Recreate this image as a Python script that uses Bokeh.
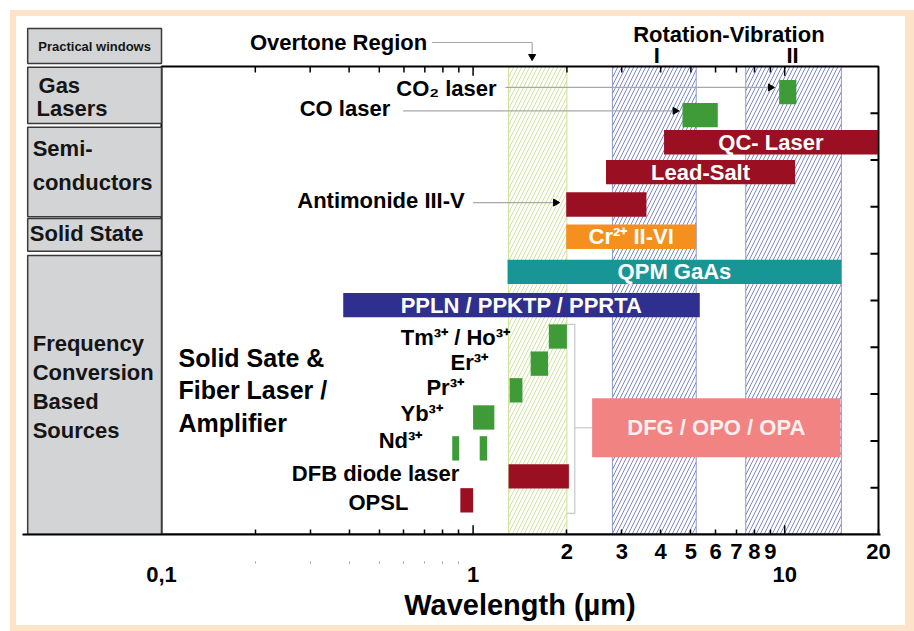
import math
from bokeh.plotting import figure
from bokeh.models import Range1d, LogAxis, FixedTicker
from bokeh.core.properties import value
from bokeh.embed import file_html
from bokeh.resources import INLINE

FONT = "Liberation Sans"

# ---------------- data ----------------
# bars: wavelength start / end (µm), row position, thickness
bar_start = [9.6, 4.7, 4.1, 2.67, 1.99, 1.99, 1.29, 0.383, 1.75, 1.53, 1.31, 1.0, 0.857, 1.05, 1.30, 0.91, 2.41]
bar_end = [10.9, 6.1, 19.9, 10.8, 3.6, 5.2, 15.2, 5.34, 2.0, 1.74, 1.44, 1.17, 0.902, 1.11, 2.03, 1.0, 15.1]
bar_row = [9.45, 8.96, 8.38, 7.74, 7.05, 6.36, 5.61, 4.90, 4.23, 3.65, 3.08, 2.50, 1.84, 1.84, 1.24, 0.73, 2.28]
bar_height = [0.52, 0.52, 0.52, 0.52, 0.52, 0.52, 0.52, 0.52, 0.52, 0.52, 0.52, 0.52, 0.52, 0.52, 0.52, 0.52, 1.26]
bar_color = ["#3f9b38", "#3f9b38", "#9a1022", "#9a1022", "#9a1022", "#f5901e", "#189595", "#2f2f8f",
             "#3f9b38", "#3f9b38", "#3f9b38", "#3f9b38", "#3f9b38", "#3f9b38", "#9a1022", "#9a1022", "#f18383"]
bar_label = ["", "", "QC- Laser", "Lead-Salt", "", "Cr²⁺ II-VI", "QPM GaAs", "PPLN / PPKTP / PPRTA",
             "", "", "", "", "", "", "", "", "DFG / OPO / OPA"]
bar_label_color = ["white"] * 16 + ["#fdf0ee"]

# hatched spectral windows
region_name = ["Overtone Region", "Rotation-Vibration I", "Rotation-Vibration II"]
region_start = [1.3, 2.8, 7.5]
region_end = [2.0, 5.2, 15.2]
region_hatch = ["#c6da8c", "#5d6ab3", "#5d6ab3"]
region_edge = ["#cfe099", "#8e97cc", "#8e97cc"]

# left category panel (x in µm left of the 0.1 µm edge)
panel_left, panel_right = 0.0372, 0.1
panel_top = [10.81, 9.98, 8.70, 6.75, 5.96]
panel_bottom = [10.06, 8.78, 6.79, 6.05, 0.0]
panel_lines = ["Gas", "Lasers", "Semi-", "conductors", "Solid State",
               "Frequency", "Conversion", "Based", "Sources"]
panel_line_x = [0.0403, 0.0397, 0.0386, 0.0386, 0.0378, 0.0386, 0.0386, 0.0386, 0.0386]
panel_line_y = [9.59, 9.10, 8.25, 7.52, 6.43, 4.08, 3.46, 2.84, 2.22]

# labels with leader arrows
callout_text = ["CO₂ laser", "CO laser", "Antimonide III-V"]
callout_text_x = [1.19, 0.542, 0.94]
callout_text_y = [9.53, 9.10, 7.14]
callout_line_x0 = [1.27, 0.596, 1.0]
callout_arrow_x = [9.0, 4.45, 1.84]
callout_line_y = [9.55, 9.05, 7.09]

# dopant / source labels (right aligned)
src_text = ["Tm³⁺ / Ho³⁺", "Er³⁺", "Pr³⁺", "Yb³⁺", "Nd³⁺", "DFB diode laser", "OPSL"]
src_x = [1.314, 1.117, 0.935, 0.800, 0.687, 0.903, 0.620]
src_y = [4.21, 3.68, 3.14, 2.59, 2.01, 1.30, 0.68]

group_text = ["Solid Sate &", "Fiber Laser /", "Amplifier"]
group_x = [0.1134, 0.1134, 0.1134]
group_y = [3.78, 3.08, 2.39]

# ticks
minor_low = [0.2, 0.3, 0.4, 0.5, 0.6, 0.7, 0.8, 0.9]
minor_high = [2, 3, 4, 5, 6, 7, 8, 9]
major_ticks = [1, 10]
row_ticks = [1, 2, 3, 4, 5, 6, 7, 8, 9]
upper_ticks = [2, 3, 4, 5, 6, 7, 8, 9, 20]
upper_labels = ["2", "3", "4", "5", "6", "7", "8", "9", "20"]
lower_ticks = [0.1, 1, 10]
lower_labels = ["0,1", "1", "10"]

X_MIN, X_MAX = 0.1, 20.0
Y_TOP = 10.0

# ---------------- figure ----------------
p = figure(x_axis_type="log", x_range=Range1d(0.0358, 20.3), y_range=Range1d(0, 10.98),
           frame_width=858, frame_height=514,
           min_border_left=6, min_border_right=25, min_border_top=4, min_border_bottom=91,
           x_axis_location=None, y_axis_location=None,
           toolbar_location=None, output_backend="svg",
           background_fill_color="white", border_fill_color="white", outline_line_color=None)
p.margin = (16, 0, 0, 16)
p.styles = {"outline": "6px solid #fde4c9", "box-shadow": "3px 0 0 6px #fde4c9"}
p.grid.visible = False

# hatched regions
for i in range(3):
    p.quad(left=[region_start[i]], right=[region_end[i]], bottom=[0], top=[Y_TOP],
           fill_color=None, line_color=region_edge[i], line_width=1,
           hatch_pattern="/", hatch_color=region_hatch[i], hatch_scale=8, hatch_weight=0.8)

# bracket from dopant group to DFG box
br_x = 2.12
p.multi_line(xs=[[2.0, br_x, br_x, 2.0], [br_x, bar_start[16]]],
             ys=[[4.49, 4.49, 0.45, 0.45], [bar_row[16], bar_row[16]]],
             line_color="#c8c8c8", line_width=1.2)

# leader lines
p.multi_line(xs=[[a, b] for a, b in zip(callout_line_x0, callout_arrow_x)],
             ys=[[y, y] for y in callout_line_y], line_color="#a8a8a8", line_width=1.2)
p.scatter(x=callout_arrow_x, y=callout_line_y, marker="triangle", angle=-math.pi / 2,
          size=7, color="black")

# overtone title arrow
ot_x0, ot_x1, ot_y = 0.737, 1.547, 10.51
p.line(x=[ot_x0, ot_x1, ot_x1], y=[ot_y, ot_y, 10.27], line_color="#a8a8a8", line_width=1.2)
p.scatter(x=[ot_x1], y=[10.21], marker="inverted_triangle", size=7, color="black")

# bars
p.quad(left=bar_start, right=bar_end,
       bottom=[r - h / 2 for r, h in zip(bar_row, bar_height)],
       top=[r + h / 2 for r, h in zip(bar_row, bar_height)],
       fill_color=bar_color, line_color=None)

lab_idx = [i for i, t in enumerate(bar_label) if t]
p.text(x=[math.sqrt(bar_start[i] * bar_end[i]) for i in lab_idx],
       y=[bar_row[i] for i in lab_idx], text=[bar_label[i] for i in lab_idx],
       text_color=[bar_label_color[i] for i in lab_idx],
       text_font=value(FONT), text_font_style="bold", text_font_size="22px",
       text_align="center", text_baseline="middle")

# plot frame
p.quad(left=[X_MIN], right=[X_MAX], bottom=[0], top=[Y_TOP], fill_color=None,
       line_color="black", line_width=2)

# top ticks (inside)
p.segment(x0=minor_low + minor_high, y0=Y_TOP, x1=minor_low + minor_high, y1=Y_TOP - 0.13,
          line_color="black", line_width=1.5)
p.segment(x0=major_ticks, y0=Y_TOP, x1=major_ticks, y1=Y_TOP - 0.2,
          line_color="black", line_width=1.5)
# longer bottom major ticks
p.segment(x0=major_ticks, y0=0, x1=major_ticks, y1=0.2, line_color="black", line_width=1.5)
# right ticks (inside, 8 px long)
tick_len = 10 ** (-8 / 311.6)
p.segment(x0=X_MAX, y0=row_ticks, x1=X_MAX * tick_len, y1=row_ticks,
          line_color="black", line_width=2)

# left panel
p.quad(left=panel_left, right=panel_right, bottom=panel_bottom, top=panel_top,
       fill_color="#d3d4d6", line_color="#3a3a3a", line_width=1.5)
p.text(x=panel_line_x, y=panel_line_y, text=panel_lines, text_font=value(FONT),
       text_font_style="bold", text_font_size="22px", text_color="#151515",
       text_align="left", text_baseline="middle")
p.text(x=[math.sqrt(panel_left * panel_right)], y=[(panel_top[0] + panel_bottom[0]) / 2],
       text=["Practical windows"], text_font=value(FONT), text_font_style="bold",
       text_font_size="13px", text_color="#151515", text_align="center", text_baseline="middle")

# titles above
p.text(x=[0.712], y=[ot_y], text=["Overtone Region"], text_font=value(FONT),
       text_font_style="bold", text_font_size="22px", text_align="right", text_baseline="middle")
p.text(x=[6.62], y=[10.68], text=["Rotation-Vibration"], text_font=value(FONT),
       text_font_style="bold", text_font_size="22px", text_align="center", text_baseline="middle")
p.text(x=[3.89, 10.6], y=[10.24, 10.24], text=["I", "II"], text_font=value(FONT),
       text_font_style="bold", text_font_size="22px", text_align="center", text_baseline="middle")

# callout texts
p.text(x=callout_text_x, y=callout_text_y, text=callout_text, text_font=value(FONT),
       text_font_style="bold", text_font_size="22px", text_align="right", text_baseline="middle")
p.text(x=src_x, y=src_y, text=src_text, text_font=value(FONT),
       text_font_style="bold", text_font_size="22px", text_align="right", text_baseline="middle")
p.text(x=group_x, y=group_y, text=group_text, text_font=value(FONT),
       text_font_style="bold", text_font_size="25px", text_align="left", text_baseline="middle")


# ---------------- axes ----------------
def style_labels(ax, size, standoff):
    ax.major_label_standoff = standoff
    ax.major_label_text_font = FONT
    ax.major_label_text_font_style = "bold"
    ax.major_label_text_font_size = size
    ax.major_label_text_color = "black"


ax1 = LogAxis(ticker=FixedTicker(ticks=upper_ticks, minor_ticks=minor_low),
              major_label_overrides=dict(zip(upper_ticks, upper_labels)))
ax1.axis_line_width = 2
ax1.axis_line_color = "black"
ax1.major_tick_in = 5
ax1.major_tick_out = 0
ax1.minor_tick_in = 5
ax1.minor_tick_out = 0
ax1.major_tick_line_width = 1.5
ax1.minor_tick_line_width = 1.5
style_labels(ax1, "22px", 9)
p.add_layout(ax1, "below")

ax2 = LogAxis(ticker=FixedTicker(ticks=lower_ticks, minor_ticks=minor_low),
              major_label_overrides=dict(zip(lower_ticks, lower_labels)))
ax2.axis_line_color = None
ax2.major_tick_in = 0
ax2.major_tick_out = 0
ax2.minor_tick_in = 0
ax2.minor_tick_out = 2
ax2.minor_tick_line_color = "#999999"
style_labels(ax2, "22px", 3)
p.add_layout(ax2, "below")

# axis title centred under the 0.1–20 µm span
title_pos = [math.sqrt(X_MIN * X_MAX)]
ax3 = LogAxis(ticker=FixedTicker(ticks=title_pos),
              major_label_overrides={title_pos[0]: "Wavelength (µm)"})
ax3.axis_line_color = None
ax3.major_tick_in = 0
ax3.major_tick_out = 0
ax3.minor_tick_line_color = None
style_labels(ax3, "29px", 4)
p.add_layout(ax3, "below")

open("out.html", "w").write(file_html(p, INLINE))
